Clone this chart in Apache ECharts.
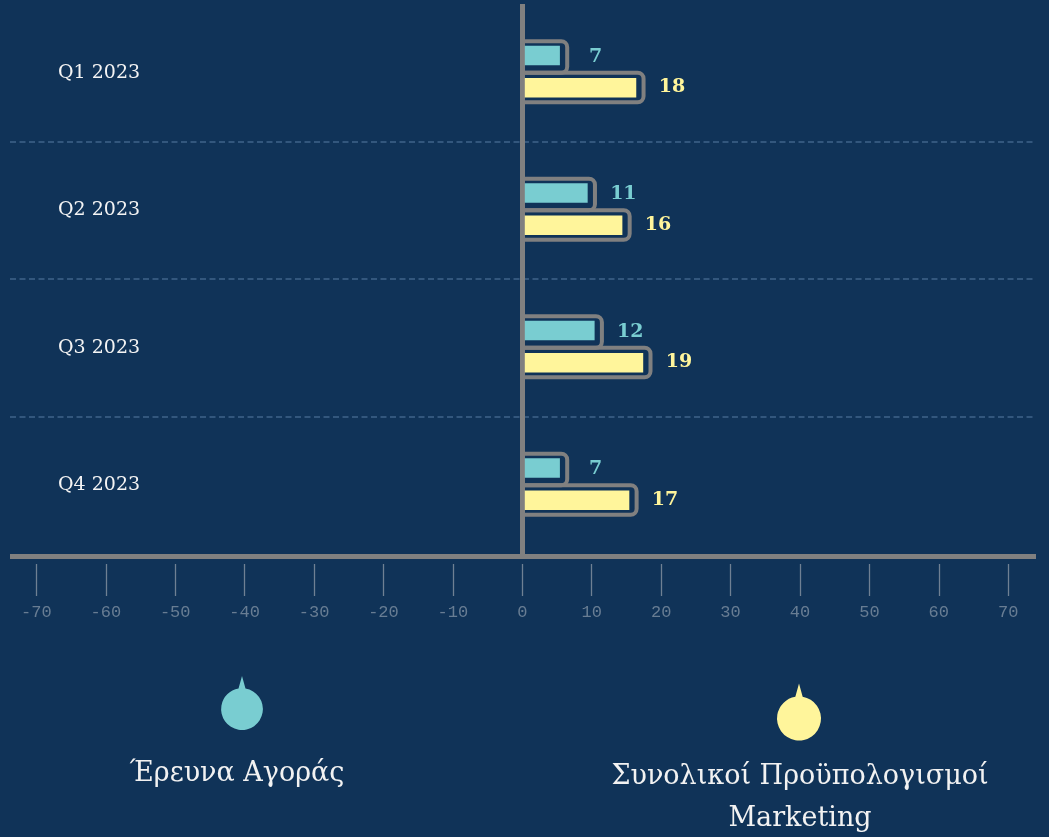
<!DOCTYPE html>
<html>
<head>
<meta charset="utf-8">
<title>Έρευνα Αγοράς / Προϋπολογισμοί Marketing</title>
<script src="https://cdn.jsdelivr.net/npm/echarts@6/dist/echarts.min.js"></script>
<style>
  html, body { margin: 0; padding: 0; background: #103358; }
  #chart { width: 1049px; height: 837px; }
</style>
</head>
<body>
<div id="chart"></div>
<script>
// data
var categories = ['Q1 2023', 'Q2 2023', 'Q3 2023', 'Q4 2023'];
var researchValues = [7, 11, 12, 7];
var budgetValues = [18, 16, 19, 17];
var tickValues = [-70, -60, -50, -40, -30, -20, -10, 0, 10, 20, 30, 40, 50, 60, 70];
var seriesNames = ['Έρευνα Αγοράς', 'Συνολικοί Προϋπολογισμοί Marketing'];

var TEAL = '#79cdd1';
var YELLOW = '#fff59b';
var GRAY = '#808080';
var pinIcon = 'path://M21,0 L24.5,12.6 A21,21 0 1,1 17.5,12.6 Z';

// bar = outlined box + inset fill + value label, drawn from the axis scales
function barRenderer(color, side) {
    return function (params, api) {
        var v = api.value(0);
        var cat = api.value(1);
        var start = api.coord([0, cat]);
        var end = api.coord([v, cat]);
        var cy = start[1];
        var x0 = start[0], x1 = end[0];
        var boxY = side < 0 ? cy - 31.5 : cy;
        var boxH = side < 0 ? 31.5 : 29.5;
        var fillY = side < 0 ? cy - 27 : cy + 5.3;
        return {
            type: 'group',
            children: [
                {
                    type: 'rect',
                    shape: { x: x0, y: boxY, width: x1 - 3.7 - x0, height: boxH, r: [0, 6, 6, 0] },
                    style: { fill: 'none', stroke: GRAY, lineWidth: 4 }
                },
                {
                    type: 'rect',
                    shape: { x: x0 + 2.5, y: fillY, width: x1 - 11 - x0 - 2.5, height: 19.5 },
                    style: { fill: color }
                },
                {
                    type: 'text',
                    x: x1 + 24.7,
                    y: boxY + boxH / 2,
                    style: {
                        text: String(v),
                        fill: color,
                        font: 'bold 19px "DejaVu Serif"',
                        align: 'center', verticalAlign: 'middle',
                        textAlign: 'center', textVerticalAlign: 'middle'
                    }
                }
            ]
        };
    };
}

var chart = echarts.init(document.getElementById('chart'));

var option = {
    backgroundColor: '#103358',
    animation: false,
    grid: { left: 10, right: 13, top: 4, bottom: 283, containLabel: false, outerBoundsMode: 'none' },
    xAxis: [
        {
            type: 'value', position: 'bottom', min: -73.8, max: 74, offset: 2.5,
            axisLine: { show: true, onZero: false, lineStyle: { color: GRAY, width: 5, cap: 'butt' } },
            axisTick: { show: false }, axisLabel: { show: false }, splitLine: { show: false }
        },
        {
            type: 'value', position: 'bottom', min: -73.8, max: 74, offset: 10,
            axisLine: { show: false, onZero: false },
            axisTick: { show: true, customValues: tickValues, length: 32, lineStyle: { color: '#6f8093', width: 1.3 } },
            axisLabel: { customValues: tickValues, margin: 40, color: '#687d93', fontFamily: 'Liberation Mono', fontSize: 17 },
            splitLine: { show: false }
        }
    ],
    yAxis: [
        {
            type: 'category', data: categories, inverse: true, position: 'left',
            axisLine: { show: true, onZero: true, lineStyle: { color: GRAY, width: 5, cap: 'butt' } },
            axisTick: { show: false }, axisLabel: { show: false }, splitLine: { show: false }
        },
        {
            type: 'category', data: categories, inverse: true, position: 'left',
            axisLine: { show: false, onZero: false },
            axisTick: { show: false },
            axisLabel: {
                inside: true, margin: 48, color: '#f4f4f4', fontFamily: 'DejaVu Serif',
                fontSize: 19, padding: [5, 0, 0, 0]
            },
            splitLine: { show: true, showMinLine: false, showMaxLine: false, lineStyle: { color: '#3f6489', type: [6, 3.5], width: 1.5 } }
        }
    ],
    legend: [
        {
            data: [{ name: seriesNames[0], icon: pinIcon, itemStyle: { color: TEAL } }],
            left: 221, top: 676, padding: 0, itemWidth: 42, itemHeight: 54,
            formatter: function () { return ''; }
        },
        {
            data: [{ name: seriesNames[1], icon: pinIcon, itemStyle: { color: YELLOW } }],
            left: 777, top: 683, padding: 0, itemWidth: 44, itemHeight: 58,
            formatter: function () { return ''; }
        }
    ],
    graphic: [
        {
            type: 'text', x: 237, y: 774,
            style: {
                text: seriesNames[0], fill: '#f2f2f2', font: '27px "DejaVu Serif"',
                align: 'center', verticalAlign: 'middle', textAlign: 'center', textVerticalAlign: 'middle'
            }
        },
        {
            type: 'text', x: 800, y: 798,
            style: {
                text: 'Συνολικοί Προϋπολογισμοί\nMarketing', fill: '#f2f2f2', font: '27px "DejaVu Serif"',
                lineHeight: 42,
                align: 'center', verticalAlign: 'middle', textAlign: 'center', textVerticalAlign: 'middle'
            }
        }
    ],
    series: [
        {
            name: seriesNames[0], type: 'custom', xAxisIndex: 0, yAxisIndex: 0,
            itemStyle: { color: TEAL },
            encode: { x: 0, y: 1 },
            renderItem: barRenderer(TEAL, -1),
            data: researchValues.map(function (v, i) { return [v, categories[i]]; })
        },
        {
            name: seriesNames[1], type: 'custom', xAxisIndex: 0, yAxisIndex: 0,
            itemStyle: { color: YELLOW },
            encode: { x: 0, y: 1 },
            renderItem: barRenderer(YELLOW, 1),
            data: budgetValues.map(function (v, i) { return [v, categories[i]]; })
        }
    ]
};
chart.setOption(option);
</script>
</body>
</html>
